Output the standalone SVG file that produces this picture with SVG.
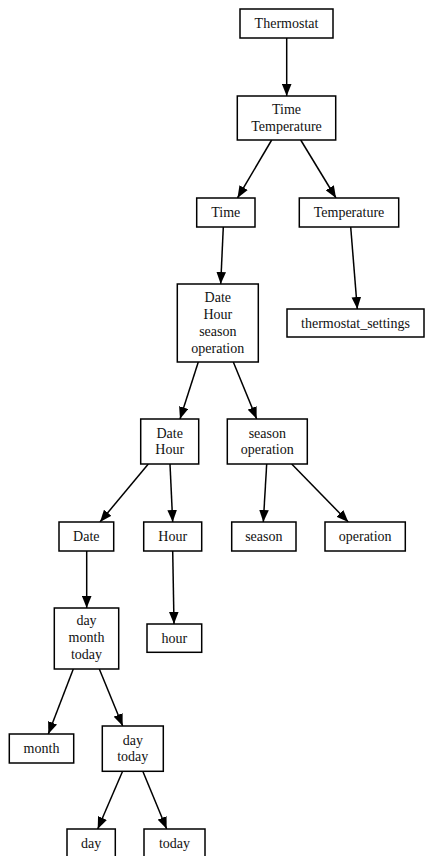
<svg xmlns="http://www.w3.org/2000/svg" width="426" height="856" viewBox="0 0 426 856">
<style>
.n rect{fill:#fff;stroke:#000;stroke-width:1.5}
text{font-family:"Liberation Serif","Times New Roman",serif;font-size:14px;fill:#111;text-anchor:middle}
#edges line{stroke:#000;stroke-width:1.5;marker-end:url(#ah)}
</style>
<defs>
<marker id="ah" markerUnits="userSpaceOnUse" markerWidth="12" markerHeight="10" viewBox="0 0 10 8" refX="10" refY="4" orient="auto">
<path d="M0,0 L10,4 L0,8 Z" fill="#000"/>
</marker>
</defs>
<rect width="426" height="856" fill="#fff"/>
<g id="edges">
<line x1="286.7" y1="38" x2="286.7" y2="96"/>
<line x1="271.7" y1="140" x2="237.5" y2="198"/>
<line x1="300.7" y1="140" x2="336" y2="198"/>
<line x1="223.3" y1="227" x2="220.7" y2="284"/>
<line x1="350.7" y1="227" x2="357.3" y2="309"/>
<line x1="198.3" y1="362" x2="180" y2="419"/>
<line x1="233.3" y1="362" x2="256.7" y2="419"/>
<line x1="148.3" y1="464" x2="100" y2="522"/>
<line x1="170" y1="464" x2="172.7" y2="522"/>
<line x1="266.7" y1="464" x2="263.3" y2="522"/>
<line x1="291.7" y1="464" x2="348.3" y2="522"/>
<line x1="86.7" y1="551" x2="86.7" y2="608"/>
<line x1="172.7" y1="551" x2="174" y2="624"/>
<line x1="73.3" y1="669" x2="48.3" y2="734"/>
<line x1="99.3" y1="669" x2="122.7" y2="726"/>
<line x1="122.7" y1="771" x2="97.7" y2="829"/>
<line x1="142.7" y1="771" x2="166.7" y2="829"/>
</g>
<g id="thermostat" class="n"><rect x="240" y="9" width="93" height="29"/><text x="286.5" y="28">Thermostat</text></g>
<g id="time_temperature" class="n"><rect x="237.3" y="96" width="98.4" height="44"/><text x="286.5" y="114.1">Time</text><text x="286.5" y="130.9">Temperature</text></g>
<g id="time" class="n"><rect x="196.7" y="198" width="58.3" height="29"/><text x="225.8" y="217">Time</text></g>
<g id="temperature" class="n"><rect x="299.3" y="198" width="99.4" height="29"/><text x="349" y="217">Temperature</text></g>
<g id="date_hour_season_operation" class="n"><rect x="177.3" y="284" width="81" height="78"/><text x="217.8" y="302.3">Date</text><text x="217.8" y="319.1">Hour</text><text x="217.8" y="335.9">season</text><text x="217.8" y="352.7">operation</text></g>
<g id="thermostat_settings" class="n"><rect x="287" y="309" width="137" height="28"/><text x="355.5" y="327.5">thermostat_settings</text></g>
<g id="date_hour" class="n"><rect x="140.7" y="419" width="58" height="45"/><text x="169.7" y="437.6">Date</text><text x="169.7" y="454.4">Hour</text></g>
<g id="season_operation" class="n"><rect x="227.3" y="419" width="80" height="45"/><text x="267.3" y="437.6">season</text><text x="267.3" y="454.4">operation</text></g>
<g id="date" class="n"><rect x="59" y="522" width="54.7" height="29"/><text x="86.3" y="540.8">Date</text></g>
<g id="hour_cap" class="n"><rect x="143.7" y="522" width="58" height="29"/><text x="172.7" y="540.8">Hour</text></g>
<g id="season" class="n"><rect x="231.7" y="522" width="64.3" height="29"/><text x="263.8" y="540.8">season</text></g>
<g id="operation" class="n"><rect x="325" y="522" width="80.3" height="29"/><text x="365.2" y="540.8">operation</text></g>
<g id="day_month_today" class="n"><rect x="54.3" y="608" width="64.4" height="61"/><text x="86.5" y="625.2">day</text><text x="86.5" y="642">month</text><text x="86.5" y="658.8">today</text></g>
<g id="hour" class="n"><rect x="147" y="624" width="54.7" height="28.3"/><text x="174.3" y="642.5">hour</text></g>
<g id="month" class="n"><rect x="9.3" y="734" width="64.4" height="29"/><text x="41.5" y="753">month</text></g>
<g id="day_today" class="n"><rect x="102.3" y="726" width="61" height="45.3"/><text x="132.8" y="744.6">day</text><text x="132.8" y="761.4">today</text></g>
<g id="day" class="n"><rect x="67" y="829" width="48.3" height="29"/><text x="91.2" y="847.5">day</text></g>
<g id="today" class="n"><rect x="144" y="829" width="61" height="29"/><text x="174.5" y="847.5">today</text></g>
</svg>
